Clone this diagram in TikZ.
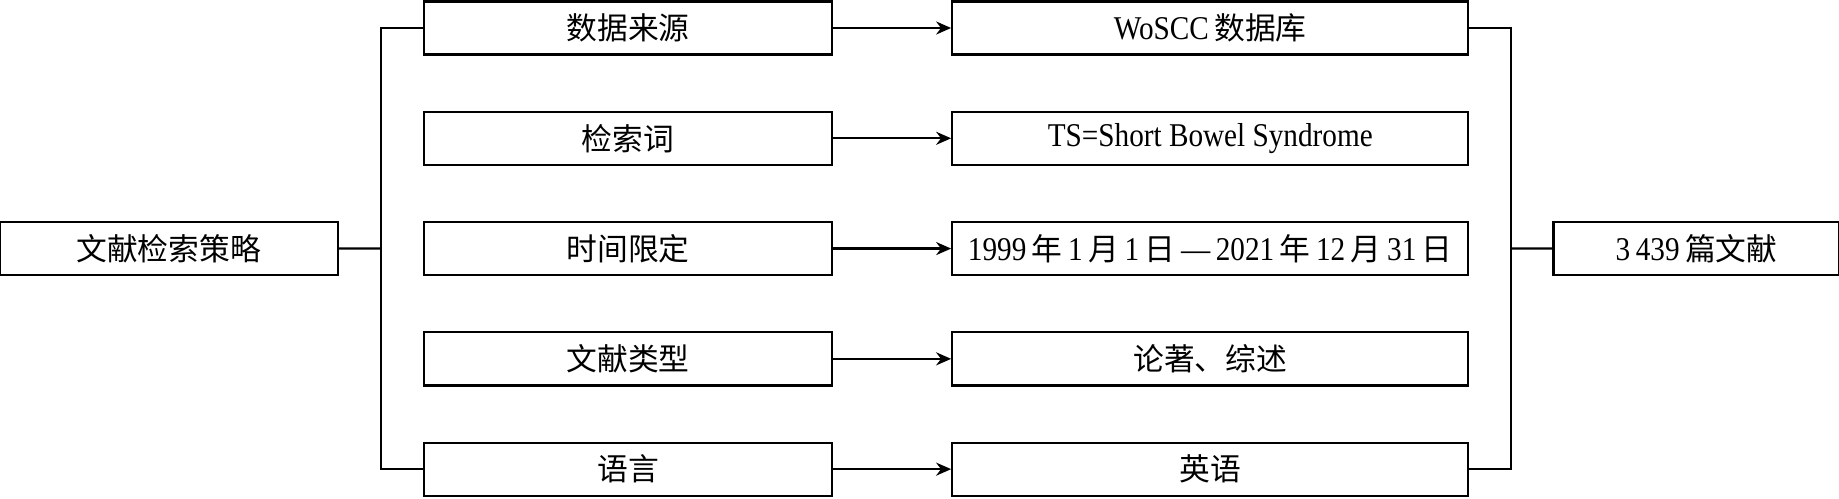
\documentclass[tikz,border=0pt]{standalone}
\usepackage{fontspec}
\setmainfont{Liberation Serif}[Scale=1.08,FakeStretch=0.88]
\newfontfamily\cjk{Noto Sans CJK SC}
\usetikzlibrary{positioning,calc,arrows.meta}

\begin{document}
\begin{tikzpicture}[node distance=1.1cm, line width=1.3pt,
		every node/.style={font=\fontsize{17.5pt}{20pt}\selectfont},
		box/.style={rectangle, draw, minimum height=1.06cm, inner sep=0pt},
		pfeil/.style={-{Stealth[length=0.3cm,width=0.26cm]}}]
	\useasboundingbox (0,0) rectangle (36.78,-9.96);
	
	\node[box, minimum width=8.16cm] (sly) at (12.56,-0.56) {\cjk 数据来源};
	\node[box, minimum width=8.16cm, below=of sly] (jsc) {\cjk 检索词};
	\node[box, minimum width=8.16cm, below=of jsc] (sjx) {\cjk 时间限定};
	\node[box, minimum width=8.16cm, below=of sjx] (lei) {\cjk 文献类型};
	\node[box, minimum width=8.16cm, below=of lei] (yuy) {\cjk 语言};
	
	\node[box, minimum width=10.32cm, right=2.36cm of sly] (wos) {WoSCC\,{\cjk 数据库}};
	\node[box, minimum width=10.32cm, right=2.36cm of jsc] (ts) {TS=Short Bowel Syndrome};
	\node[box, minimum width=10.32cm, right=2.36cm of sjx] (shj) {1999\,{\cjk 年}\,1\,{\cjk 月}\,1\,{\cjk 日}\,—\,2021\,{\cjk 年}\,12\,{\cjk 月}\,31\,{\cjk 日}};
	\node[box, minimum width=10.32cm, right=2.36cm of lei] (lzs) {\cjk 论著、综述};
	\node[box, minimum width=10.32cm, right=2.36cm of yuy] (ying) {\cjk 英语};
	
	\node[box, minimum width=6.76cm, left=1.68cm of sjx] (cel) {\cjk 文献检索策略};
	\node[box, minimum width=5.72cm, right=1.66cm of shj] (res) {3\,439\,{\cjk 篇文献}};
	
	\draw[pfeil] (sly) -- (wos);
	\draw[pfeil] (jsc) -- (ts);
	\draw[pfeil] (sjx) -- (shj);
	\draw[pfeil] (lei) -- (lzs);
	\draw[pfeil] (yuy) -- (ying);
	
	\coordinate (lbus) at ($(cel.east)!0.5!(sjx.west)$);
	\coordinate (rbus) at ($(shj.east)!0.5!(res.west)$);
	\draw (sly.west) -| (lbus) |- (yuy.west);
	\draw (cel) -- (lbus);
	\draw (wos.east) -| (rbus) |- (ying.east);
	\draw (rbus) -- (res);
\end{tikzpicture}
\end{document}
